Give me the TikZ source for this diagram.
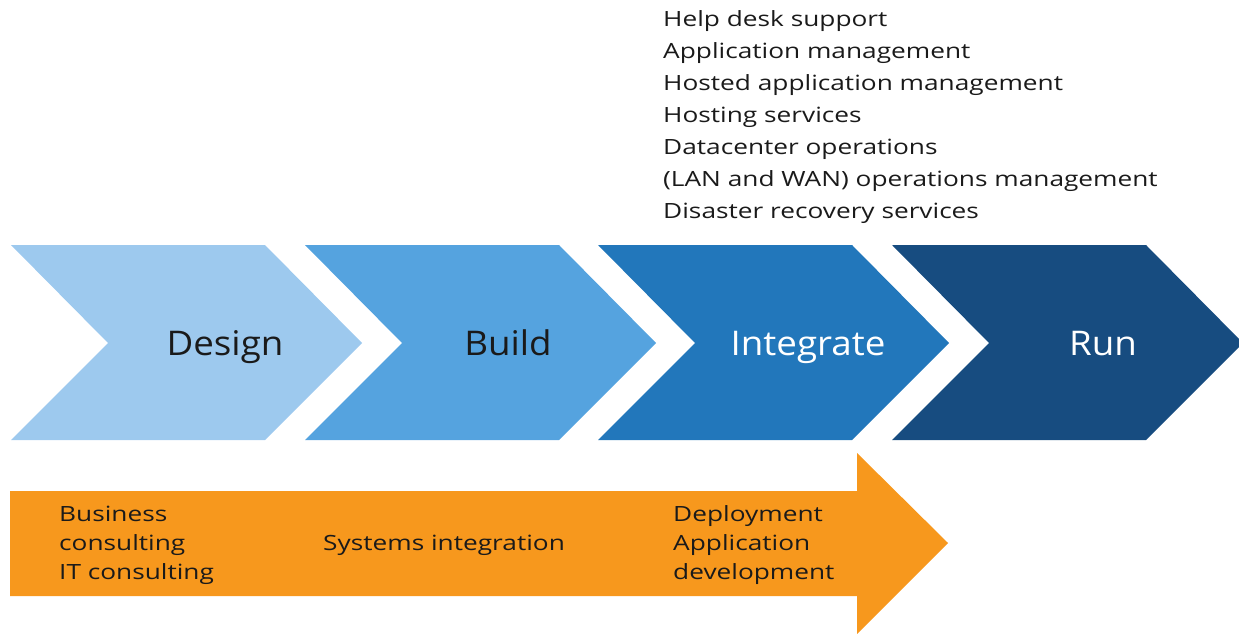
\documentclass[tikz,border=0pt]{standalone}
\usepackage{fontspec}
\setmainfont{Open Sans}
\newfontfamily\stagefont[FakeStretch=1.08]{Open Sans}
\newfontfamily\listfont[FakeStretch=1.25]{Open Sans}
\definecolor{cDesign}{HTML}{9DC9EE}
\definecolor{cBuild}{HTML}{55A3DF}
\definecolor{cInteg}{HTML}{2277BB}
\definecolor{cRun}{HTML}{174C80}
\definecolor{cOrange}{HTML}{F7981D}
\definecolor{cText}{HTML}{1A1A1A}
\begin{document}
\begin{tikzpicture}[x=1pt,y=-1pt,
  stage/.style={font=\stagefont\fontsize{34}{40}\selectfont, anchor=base, inner sep=0pt},
  listtxt/.style={font=\listfont\fontsize{21}{28}\selectfont, text=cText, anchor=base west, inner sep=0pt}]
\useasboundingbox (0,0) rectangle (1239,634);
% chevrons
\foreach \x/\c in {11/cDesign,305/cBuild,598/cInteg,892/cRun}{
  \fill[\c] (\x,245) -- ++(254,0) -- ++(97,98) -- ++(-97,97) -- ++(-254,0) -- ++(97,-97) -- cycle;
}
% orange arrow
\fill[cOrange] (10,491) -- (857,491) -- (857,453) -- (948,543) -- (857,634) -- (857,596) -- (10,596) -- cycle;
% stage labels
\node[stage, text=cText] (design) at (225,355) {Design};
\node[stage, text=cText] (build) at (508,355) {Build};
\node[stage, text=white] (integ) at (808,355) {Integrate};
\node[stage, text=white] (run) at (1103,355) {Run};
% run list
\foreach \t [count=\i from 0] in {Help desk support,Application management,Hosted application management,Hosting services,Datacenter operations,(LAN and WAN) operations management,Disaster recovery services}{
  \node[listtxt] (run\i) at (663,{26.7+32*\i}) {\t};
}
% bottom texts
\node[listtxt] (bus1) at (59,521.7) {Business};
\node[listtxt] (bus2) at (59,550.2) {consulting};
\node[listtxt] (bus3) at (59,579.5) {IT consulting};
\node[listtxt] (sysint) at (323,550.2) {Systems integration};
\node[listtxt] (dep1) at (673,521.7) {Deployment};
\node[listtxt] (dep2) at (673,550.2) {Application};
\node[listtxt] (dep3) at (673,579.5) {development};
\end{tikzpicture}
\end{document}
